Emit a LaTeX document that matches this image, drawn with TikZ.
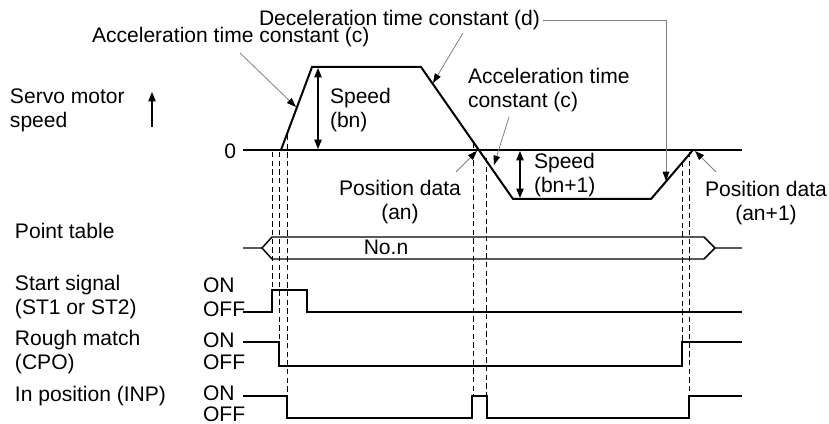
\documentclass[tikz,border=0pt]{standalone}
\usepackage{fontspec}
\setmainfont{Liberation Sans}
\usetikzlibrary{arrows.meta}
\begin{document}
\begin{tikzpicture}[x=0.75pt,y=-0.75pt,
  every node/.style={font=\fontsize{15.8pt}{18pt}\selectfont, inner sep=0pt, outer sep=0pt},
  lbl/.style={anchor=base west, align=left},
  clbl/.style={anchor=base, align=center},
  wave/.style={line width=1.5pt, line join=miter},
  guide/.style={line width=0.75pt, dash pattern=on 4pt off 2.5pt},
  lead/.style={draw=gray, line width=0.6pt, -{Triangle[color=black,length=7pt,width=5pt]}},
  dim/.style={line width=0.8pt, {Triangle[length=7pt,width=5.5pt]}-{Triangle[length=7pt,width=5.5pt]}},
]
\useasboundingbox (0,0) rectangle (829,424);

% ---------- texts (base = baseline of last line) ----------
\node[lbl] (servo) at (10,128) {Servo motor\\speed};
\node[lbl] (accA) at (92,43) {Acceleration time constant (c)};
\node[lbl] (decD) at (259,26) {Deceleration time constant (d)};
\node[lbl] (spdA) at (330,128) {Speed\\(bn)};
\node[anchor=base east] (zero) at (236,159) {0};
\node[lbl] (accB) at (468,108) {Acceleration time\\constant (c)};
\node[clbl] (posA) at (400,220) {Position data\\(an)};
\node[lbl] (spdB) at (534,193) {Speed\\(bn+1)};
\node[clbl] (posB) at (766,221) {Position data\\(an+1)};
\node[lbl] (ptab) at (15,239) {Point table};
\node[anchor=base] (non) at (386,255) {No.n};
\node[lbl] (st) at (15,315) {Start signal\\(ST1 or ST2)};
\node[lbl] (cpo) at (15,369) {Rough match\\(CPO)};
\node[lbl] (inp) at (15,401) {In position (INP)};
\node[lbl] (on1) at (203,293) {ON};
\node[lbl] (off1) at (203,316) {OFF};
\node[lbl] (on2) at (203,347) {ON};
\node[lbl] (off2) at (203,369) {OFF};
\node[lbl] (on3) at (203,400) {ON};
\node[lbl] (off3) at (203,421) {OFF};

% ---------- speed axis arrow ----------
\coordinate (ax0) at (152,127);
\coordinate (ax1) at (152,92);
\draw[line width=0.8pt, -{Triangle[length=7pt,width=5.5pt]}] (ax0) -- (ax1);

% ---------- guides ----------
\draw[guide] (272,152) -- (272,290);
\draw[guide] (279,152) -- (279,342);
\draw[guide] (287,135) -- (287,396);
\draw[guide] (473,143) -- (473,396);
\draw[guide] (486,158) -- (486,396);
\draw[guide] (682,162) -- (682,342);
\draw[guide] (689,152) -- (689,396);

% ---------- speed profile ----------
\coordinate (z0) at (243,150);
\coordinate (z1) at (742,150);
\draw[wave] (z0) -- (z1);
\coordinate (p0) at (281,150);
\coordinate (p1) at (312,67);
\coordinate (p2) at (421,67);
\coordinate (p3) at (513,199);
\coordinate (p4) at (651,199);
\coordinate (p5) at (693,150);
\draw[wave] (p0) -- (p1) -- (p2) -- (p3) -- (p4) -- (p5);

% speed dimensions
\coordinate (sa0) at (318,68);
\coordinate (sa1) at (318,149);
\draw[dim] (sa0) -- (sa1);
\coordinate (sb0) at (520,151);
\coordinate (sb1) at (520,198);
\draw[dim] (sb0) -- (sb1);

% leaders
\coordinate (la0) at (240,53);
\coordinate (la1) at (296,107);
\draw[lead] (la0) -- (la1);
\coordinate (ld0) at (463,33);
\coordinate (ld1) at (433,83);
\draw[lead] (ld0) -- (ld1);
\coordinate (ldk) at (666,181);
\draw[lead] ([xshift=2pt]decD.east) -| (ldk);
\coordinate (lb0) at (509,117);
\coordinate (lb1) at (494,165);
\draw[lead] (lb0) -- (lb1);
\coordinate (lp0) at (456,172);
\coordinate (lp1) at (477,151);
\draw[lead] (lp0) -- (lp1);
\coordinate (lq0) at (716,172);
\coordinate (lq1) at (695,151);
\draw[lead] (lq0) -- (lq1);

% ---------- point table bus ----------
\draw[line width=1.1pt, line join=miter]
  (243,248) -- (262,248) -- (272,237) -- (704,237) -- (715,248) -- (742,248)
  (262,248) -- (272,259) -- (704,259) -- (715,248);

% ---------- signals ----------
\draw[wave] (243,312) -- (272,312) -- (272,290) -- (307,290) -- (307,312) -- (742,312);
\draw[wave] (243,342) -- (279,342) -- (279,366) -- (682,366) -- (682,342) -- (742,342);
\draw[wave] (243,396) -- (287,396) -- (287,418) -- (472,418) -- (472,396) -- (487,396)
  -- (487,418) -- (689,418) -- (689,396) -- (742,396);
\end{tikzpicture}
\end{document}
